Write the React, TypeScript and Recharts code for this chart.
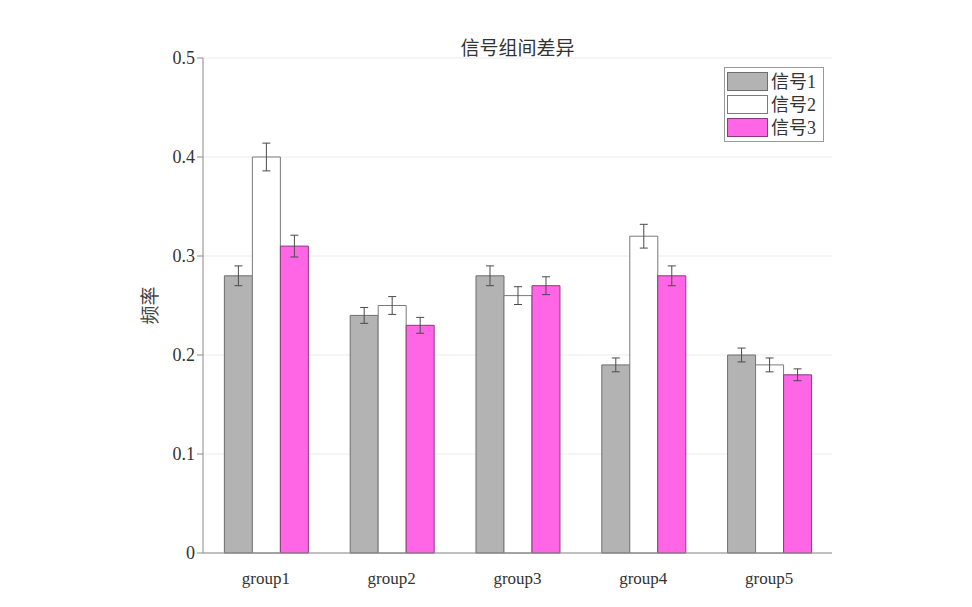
import React from 'react';
import { BarChart, Bar, XAxis, YAxis, CartesianGrid, ErrorBar, Label } from 'recharts';

const groups = ['group1', 'group2', 'group3', 'group4', 'group5'];
const signal1 = [0.28, 0.24, 0.28, 0.19, 0.2];
const signal2 = [0.4, 0.25, 0.26, 0.32, 0.19];
const signal3 = [0.31, 0.23, 0.27, 0.28, 0.18];
const err1 = [0.01, 0.008, 0.01, 0.007, 0.007];
const err2 = [0.014, 0.009, 0.009, 0.012, 0.007];
const err3 = [0.011, 0.008, 0.009, 0.01, 0.006];
const yTicks = [0, 0.1, 0.2, 0.3, 0.4, 0.5];

const seriesNames = ['信号1', '信号2', '信号3'];
const fills = ['#b3b3b3', '#ffffff', '#ff66e6'];
const strokes = ['#6e6e6e', '#7a7a7a', '#8c3a80'];

const data = groups.map((g, i) => ({
  name: g,
  s1: signal1[i],
  s2: signal2[i],
  s3: signal3[i],
  e1: err1[i],
  e2: err2[i],
  e3: err3[i],
}));

const serif = "'Liberation Serif', 'Times New Roman', 'Noto Sans CJK SC', serif";

// legend drawn outside recharts so it doesn't eat plot space
const LegendBox = () => (
  <div style={{ position: 'absolute', top: 67, left: 724, width: 94, border: '1px solid #9a9a9a', background: '#fff',
    padding: 2, fontFamily: serif }}>
    {seriesNames.map((n, i) => (
      <div key={n} style={{ display: 'flex', alignItems: 'center', height: 23 }}>
        <div style={{ width: 39, height: 17, background: fills[i], border: `1px solid ${strokes[i]}`, marginRight: 3 }} />
        <span style={{ fontSize: 18, color: '#333', lineHeight: '20px' }}>{n}</span>
      </div>
    ))}
  </div>
);

const YLabel = (props: any) => {
  const vb = props.viewBox || {};
  const cx = 148;
  const cy = (vb.y || 0) + (vb.height || 0) / 2;
  return (
    <text x={cx} y={cy} transform={`rotate(-90, ${cx}, ${cy})`} textAnchor="middle" dominantBaseline="central"
      fill="#444" fontSize={19} fontFamily="'Noto Sans CJK SC', sans-serif">
      频率
    </text>
  );
};

const App: React.FC = () => {
  return (
    <div style={{ position: 'absolute', left: 0, top: 0, width: 972, height: 607, background: '#fff' }}>
      <div style={{ position: 'absolute', top: 33, left: 0, width: 1035, textAlign: 'center', fontSize: 19, color: '#333',
        fontFamily: "'Noto Sans CJK SC', sans-serif" }}>
        信号组间差异
      </div>
      <BarChart width={972} height={607} data={data} barGap={0} barCategoryGap="17%"
        margin={{ top: 58, right: 140, left: 143, bottom: 24 }}>
        <CartesianGrid vertical={false} stroke="#ececec" />
        <XAxis dataKey="name" tickLine={false} axisLine={{ stroke: '#8a8a8a' }} height={30}
          tick={{ fill: '#333', fontSize: 17, fontFamily: serif }} tickMargin={13} />
        <YAxis width={60} domain={[0, 0.5]} ticks={yTicks} tickLine={{ stroke: '#8a8a8a' }} tickSize={6}
          axisLine={{ stroke: '#8a8a8a' }} tick={{ fill: '#333', fontSize: 18, fontFamily: serif }}
          tickFormatter={(v: number) => String(v)}>
          <Label content={<YLabel />} />
        </YAxis>
        <Bar dataKey="s1" name={seriesNames[0]} fill={fills[0]} stroke={strokes[0]} isAnimationActive={false}>
          <ErrorBar dataKey="e1" width={4} stroke="#4a4a4a" strokeWidth={1} direction="y" />
        </Bar>
        <Bar dataKey="s2" name={seriesNames[1]} fill={fills[1]} stroke={strokes[1]} isAnimationActive={false}>
          <ErrorBar dataKey="e2" width={4} stroke="#4a4a4a" strokeWidth={1} direction="y" />
        </Bar>
        <Bar dataKey="s3" name={seriesNames[2]} fill={fills[2]} stroke={strokes[2]} isAnimationActive={false}>
          <ErrorBar dataKey="e3" width={4} stroke="#4a4a4a" strokeWidth={1} direction="y" />
        </Bar>
      </BarChart>
      <LegendBox />
    </div>
  );
};

export default App;
